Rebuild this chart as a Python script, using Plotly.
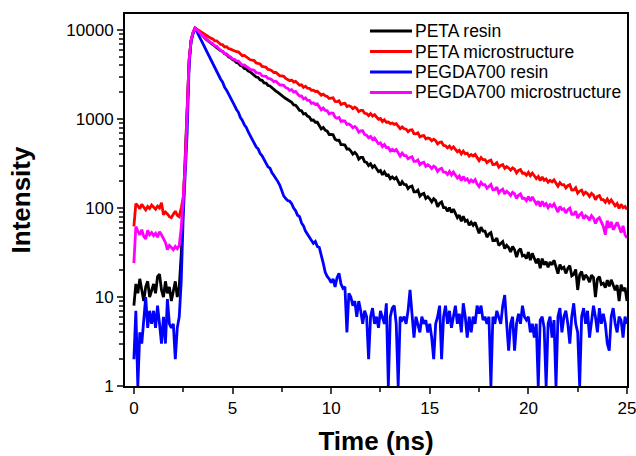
import plotly.graph_objects as go

# time axis, 0.1 ns channels from 0 to 25 ns
time_ns = [i / 10 for i in range(251)]

peta_resin = [
    8, 14, 11, 16, 12, 9, 13, 15, 10, 12,
    14, 11, 17, 18, 12, 10, 15, 11, 13, 9,
    12, 15, 10, 13, 30, 110, 280, 1100, 4500, 7600,
    9300, 10500, 10100, 9600, 9100, 8500, 8150, 7750, 7450, 7100,
    6900, 6700, 6350, 6200, 5850, 5750, 5400, 5300, 5000, 4900,
    4650, 4550, 4300, 4230, 3980, 3920, 3700, 3650, 3450, 3380,
    3220, 3150, 2960, 2930, 2750, 2720, 2550, 2530, 2380, 2350,
    2230, 2160, 2060, 1990, 1900, 1850, 1760, 1700, 1640, 1580,
    1540, 1440, 1430, 1340, 1250, 1240, 1140, 1150, 1080, 1050,
    970, 975, 920, 920, 837, 774, 803, 750, 731, 669,
    670, 664, 592, 576, 577, 516, 515, 510, 461, 462,
    437, 403, 421, 399, 354, 370, 371, 330, 325, 300,
    314, 286, 300, 275, 256, 264, 236, 254, 232, 235,
    213, 223, 212, 221, 195, 180, 198, 184, 183, 165,
    174, 177, 152, 152, 159, 136, 143, 146, 128, 134,
    127, 117, 127, 121, 103, 113, 117, 101, 101, 92,
    101, 89, 97, 86, 78, 83, 71, 81, 71, 73,
    64, 69, 64, 69, 58, 52, 61, 55, 55, 47,
    51, 53, 43, 43, 46, 38, 40, 42, 35, 38,
    36, 32, 37, 34, 28, 33, 35, 29, 29.5, 27,
    32, 26, 31, 27, 24, 27, 21, 27, 23, 25,
    21.6, 24.7, 23, 25.9, 20.9, 18.3, 23.1, 20.8, 21.6, 18.4,
    21, 22.5, 17.3, 18, 20.4, 12, 17.8, 19.3, 15.5, 17.7,
    16.6, 14.7, 17.6, 16.5, 10, 15.9, 17, 13.9, 14.3, 12.7,
    15.5, 13.2, 15.6, 13.4, 11.9, 13.6, 9, 13.8, 11.7, 12.7,
    9,
]

peta_micro = [
    62, 112, 106, 98, 110, 103, 95, 104, 99, 108,
    102, 97, 105, 100, 115, 84, 90, 86, 80, 78,
    85, 92, 83, 80, 100, 130, 300, 1150, 4600, 7700,
    9400, 10500, 10150, 9800, 9500, 9200, 8900, 8650, 8350, 8100,
    7940, 7560, 7560, 7190, 6880, 6830, 6450, 6500, 6180, 6090,
    5950, 5900, 5700, 5670, 5360, 5140, 5180, 4970, 4860, 4630,
    4600, 4540, 4270, 4180, 4150, 3900, 3870, 3820, 3610, 3580,
    3470, 3330, 3340, 3220, 3050, 3060, 3020, 2860, 2800, 2690,
    2740, 2600, 2650, 2510, 2400, 2420, 2270, 2340, 2220, 2210,
    2100, 2110, 2040, 2050, 1930, 1850, 1900, 1820, 1790, 1700,
    1720, 1730, 1580, 1570, 1600, 1460, 1490, 1500, 1380, 1410,
    1380, 1310, 1360, 1310, 1210, 1250, 1250, 1160, 1150, 1090,
    1150, 1080, 1120, 1047, 994, 1014, 936, 982, 920, 925,
    886, 903, 871, 887, 820, 779, 816, 776, 769, 720,
    753, 759, 685, 681, 698, 629, 646, 651, 597, 613,
    603, 570, 593, 571, 524, 546, 550, 505, 501, 474,
    496, 462, 487, 453, 429, 445, 406, 436, 406, 413,
    382, 399, 384, 400, 363, 341, 370, 350, 350, 324,
    338, 346, 308, 309, 322, 287, 300, 307, 279, 292,
    282, 266, 283, 273, 248, 264, 270, 246, 247, 233,
    251, 231, 247, 228, 214, 226, 203, 223, 205, 212,
    195, 205, 197, 207, 187, 176, 193, 182, 183, 168,
    178, 183, 159, 160, 169, 147, 155, 159, 142, 151,
    145, 135, 146, 140, 124, 135, 138, 124, 124, 116,
    126, 115, 123, 113, 106, 112, 99, 110, 101, 104,
    96,
]

pegda_resin = [
    2, 7, 1, 4, 3, 6, 10, 4.5, 7, 5,
    7, 4.5, 8, 5, 3, 6, 3, 9.5, 5, 4.5,
    5, 2, 4.5, 6, 15, 80, 220, 700, 4000, 7500,
    9100, 10500, 9550, 8700, 7800, 7050, 6350, 5720, 5150, 4650,
    4270, 3820, 3450, 3180, 2800, 2590, 2270, 2110, 1890, 1720,
    1540, 1420, 1280, 1190, 1040, 965, 860, 805, 715, 655,
    585, 545, 485, 462, 410, 386, 350, 330, 290, 280,
    248, 232, 210, 198, 180, 160, 136, 128, 121, 119,
    112, 100, 93, 83, 80, 68, 63, 55, 51, 46,
    44, 40, 42, 37, 36, 30, 24, 19, 17, 16,
    14.5, 16, 13, 16.5, 18.5, 14, 12.5, 13, 4, 11,
    10, 8, 9, 6, 9, 7, 5, 7, 6, 2,
    6, 7.5, 5, 6, 4.5, 7, 6, 5, 8.5, 1,
    6, 7.5, 8, 5, 1, 6, 5.5, 6, 5, 7,
    12, 6, 3.5, 6, 5, 4, 6, 5, 5.5, 4,
    5, 3.5, 2, 5, 6, 8, 2, 6, 8, 5,
    7, 4.5, 6, 8, 5, 6.5, 4, 8.5, 6, 3.5,
    6, 4, 6, 5, 8, 6.5, 8, 5.5, 6, 5,
    6, 1, 6, 5, 7, 6, 5, 8, 10.5, 5,
    2.5, 5, 6, 2.5, 5, 6.5, 5, 8, 6, 5.5,
    6, 4, 5, 3.5, 5, 1, 5.5, 6, 4.5, 1,
    5, 6, 3.5, 5.5, 1, 6, 7.5, 4, 6, 7,
    5, 3, 6, 8.5, 5, 4, 1, 6, 7.5, 5,
    7, 3.5, 5.5, 8, 6, 4, 7.5, 5, 6.5, 5,
    3, 2.5, 6, 7.5, 5, 4, 6, 5.5, 3.5, 6,
    5,
]

pegda_micro = [
    24, 62, 55, 50, 57, 48, 45, 56, 50, 53,
    49, 52, 47, 54, 50, 45, 41, 34, 38, 36,
    34, 37, 35, 38, 60, 125, 290, 1150, 4600, 7700,
    9400, 10500, 10000, 9440, 8950, 8520, 8130, 7820, 7500, 7210,
    7020, 6620, 6560, 6190, 5890, 5790, 5420, 5410, 5110, 4990,
    4720, 4680, 4510, 4470, 4220, 4030, 4060, 3880, 3800, 3610,
    3570, 3530, 3320, 3270, 3250, 3060, 3050, 3020, 2860, 2850,
    2750, 2630, 2660, 2550, 2410, 2420, 2380, 2250, 2200, 2100,
    2140, 2010, 2040, 1910, 1810, 1820, 1680, 1730, 1620, 1620,
    1500, 1520, 1460, 1480, 1350, 1270, 1330, 1250, 1240, 1140,
    1170, 1160, 1050, 1020, 1040, 940, 955, 950, 870, 880,
    851, 796, 825, 786, 711, 737, 738, 668, 659, 616,
    638, 589, 611, 564, 528, 540, 489, 517, 477, 478,
    439, 456, 437, 453, 409, 383, 414, 389, 388, 357,
    370, 377, 334, 334, 347, 307, 320, 326, 294, 306,
    295, 278, 295, 285, 257, 273, 279, 253, 253, 238,
    257, 235, 254, 232, 217, 229, 203, 226, 206, 213,
    194, 206, 197, 209, 186, 174, 194, 182, 183, 167,
    178, 184, 160, 161, 171, 148, 157, 163, 144, 154,
    148, 138, 150, 144, 128, 139, 144, 128, 129, 121,
    134, 120, 133, 120, 111, 119, 104, 119, 107, 112,
    101, 109, 104, 111, 98, 90, 104, 96, 98, 88,
    96, 100, 85, 85, 92, 77, 84, 88, 76, 82,
    79, 73, 82, 77, 67, 75, 78, 69, 62, 50,
    72, 60, 70, 57, 64, 69, 61, 53, 63, 50,
    46,
]

series_names = ["PETA resin", "PETA microstructure", "PEGDA700 resin", "PEGDA700 microstructure"]
series_colors = ["#000000", "#ff0000", "#0000ff", "#ff00ff"]
series_values = [peta_resin, peta_micro, pegda_resin, pegda_micro]

x_ticks = [0, 5, 10, 15, 20, 25]
y_ticks = [1, 10, 100, 1000, 10000]

font = "Arial, 'Liberation Sans', sans-serif"

fig = go.Figure()
for name, color, vals in zip(series_names, series_colors, series_values):
    fig.add_trace(go.Scatter(x=time_ns, y=vals, mode="lines", name=name,
                             line=dict(color=color, width=2.8), showlegend=False))

# legend drawn by hand so the row spacing matches the original (tighter than plotly's)
legend_rows = [0.9543, 0.899, 0.844, 0.789]
for name, color, yy in zip(series_names, series_colors, legend_rows):
    fig.add_shape(type="line", xref="paper", yref="paper", x0=0.488, x1=0.5717,
                  y0=yy, y1=yy, line=dict(color=color, width=3))
    fig.add_annotation(x=0.5737, y=yy, xref="paper", yref="paper", text=name,
                       showarrow=False, xanchor="left", yanchor="middle",
                       font=dict(size=17.5, color="black"))

fig.update_layout(
    width=636, height=456,
    margin=dict(l=125, r=9, t=14, b=70),
    paper_bgcolor="white", plot_bgcolor="white",
    font=dict(family=font, size=17, color="black"),
)
fig.update_xaxes(
    range=[-0.45, 25], tickvals=x_ticks, ticks="outside", ticklen=6, tickwidth=2,
    ticklabeloverflow="allow",
    showline=True, linewidth=2, linecolor="black", mirror=True,
    showgrid=False, zeroline=False, automargin=False,
    minor=dict(dtick=2.5, tick0=0, ticks="outside", ticklen=4, tickwidth=2),
    title=dict(text="<b>Time (ns)</b>", font=dict(size=26), standoff=16),
)
fig.update_yaxes(
    type="log", range=[0, 4.18], tickvals=y_ticks, ticktext=[str(v) for v in y_ticks],
    ticks="outside", ticklen=6, tickwidth=2,
    showline=True, linewidth=2, linecolor="black", mirror=True,
    showgrid=False, zeroline=False, automargin=False,
    minor=dict(dtick="D1", ticks="outside", ticklen=4, tickwidth=1.5),
    title=dict(text="<b>Intensity</b>", font=dict(size=26), standoff=28),
)

# drop the default 8px page margin so the figure fills the window exactly
fig.write_html("out.html", config={"displayModeBar": False},
               post_script="document.body.style.margin='0';document.body.style.overflow='hidden';")
